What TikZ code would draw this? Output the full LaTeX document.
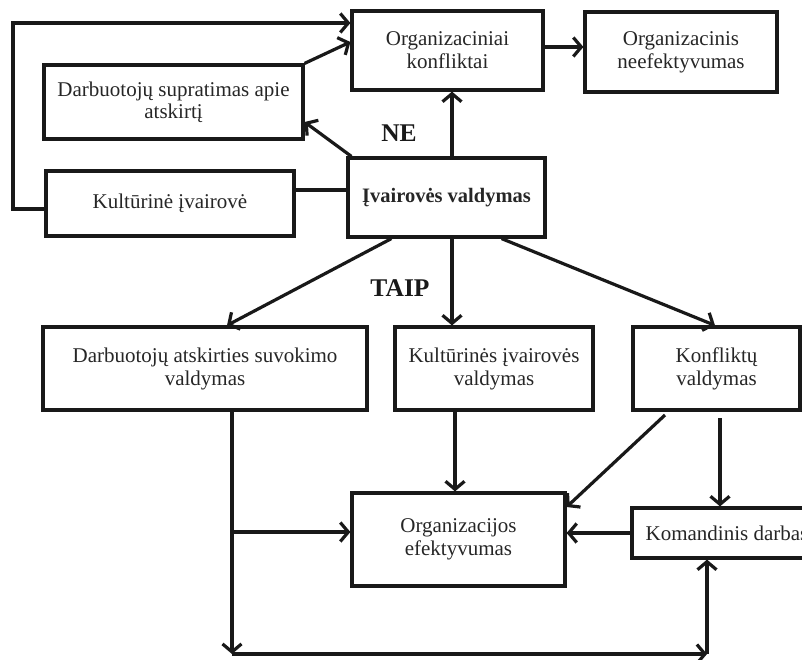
\documentclass[tikz,border=0pt]{standalone}
\usepackage{fontspec}
\setmainfont{Liberation Serif}
\usetikzlibrary{arrows.meta}
\begin{document}
\begin{tikzpicture}[x=1pt,y=-1pt,
  box/.style={draw=black!90, line width=3.2pt, align=center, inner sep=0pt, text=black!85, font=\fontsize{21}{23}\selectfont},
  arr/.style={draw=black!90, line width=3.2pt, -{Straight Barb[length=8pt,width=19pt]}},
  ln/.style={draw=black!90, line width=3.2pt},
  lbl/.style={text=black!90, font=\fontsize{25.5}{27}\selectfont\bfseries}]
\useasboundingbox (0,0) rectangle (802,660);
\clip (0,0) rectangle (802,660);
\node[box, minimum width=191pt, minimum height=79pt] (konf) at (447.5,50.5) {Organizaciniai\\konfliktai};
\node[box, minimum width=192pt, minimum height=80pt] (neef) at (681,52) {Organizacinis\\neefektyvumas};
\node[box, minimum width=259pt, minimum height=74pt] (supr) at (173.5,102) {\raisebox{-5pt}{\shortstack{Darbuotojų supratimas apie\\atskirtį}}};
\node[box, minimum width=248pt, minimum height=65pt] (kult) at (170,203.5) {Kultūrinė įvairovė};
\node[box, minimum width=197pt, minimum height=79pt, font=\fontsize{20.5}{22.5}\selectfont\bfseries] (ival) at (446.5,197.5) {Įvairovės valdymas};
\node[box, minimum width=324pt, minimum height=83pt] (dasv) at (205,368.5) {Darbuotojų atskirties suvokimo\\valdymas};
\node[box, minimum width=198pt, minimum height=83pt] (kiv) at (494,368.5) {Kultūrinės įvairovės\\valdymas};
\node[box, minimum width=167pt, minimum height=83pt] (konv) at (716.5,368.5) {Konfliktų\\valdymas};
\node[box, minimum width=213pt, minimum height=93pt] (orgef) at (458.5,539.5) {Organizacijos\\efektyvumas};
\node[box, minimum width=190pt, minimum height=50pt] (kom) at (727,533) {Komandinis darbas};
\node[lbl] (ne) at (399,133) {NE};
\node[lbl] (taip) at (400,288) {TAIP};
% connectors
\coordinate (p1) at (13,209);
\coordinate (p2) at (13,23);
\draw[arr] (kult.west |- p1) -- (p1) -- (p2) -- (konf.west |- p2);
\coordinate (p3) at (352,42);
\draw[arr] (supr.north east) -- (konf.west |- p3);
\coordinate (p4) at (303,122);
\draw[arr] ([xshift=5pt]ival.north west) -- (supr.east |- p4);
\coordinate (p5) at (452,0);
\draw[arr] (ival.north -| p5) -- (konf.south -| p5);
\coordinate (p6) at (0,47);
\draw[arr] (konf.east |- p6) -- (neef.west |- p6);
\coordinate (p7) at (0,190);
\draw[ln] (kult.east |- p7) -- (ival.west |- p7);
\draw[arr] ([xshift=45pt]ival.south west) -- ([xshift=22pt]dasv.north);
\draw[arr] (ival.south -| p5) -- (kiv.north -| p5);
\draw[arr] ([xshift=-45pt]ival.south east) -- ([xshift=-1.5pt]konv.north);
\coordinate (q1) at (232,654);
\coordinate (q2) at (232,532);
\coordinate (q3) at (707,654);
\draw[arr] (dasv.south -| q1) -- (q1);
\draw[arr] (q2) -- (orgef.west |- q2);
\draw[arr] (q1) -- (q3);
\draw[arr] (q3) -- (kom.south -| q3);
\coordinate (q4) at (455,0);
\draw[arr] (kiv.south -| q4) -- (orgef.north -| q4);
\coordinate (q5) at (665,415);
\coordinate (q6) at (567,507);
\draw[arr] (q5) -- (orgef.east |- q6);
\coordinate (q7) at (720,418);
\draw[arr] (q7) -- (kom.north -| q7);
\coordinate (q8) at (0,533);
\draw[arr] (kom.west |- q8) -- (orgef.east |- q8);
\end{tikzpicture}
\end{document}
